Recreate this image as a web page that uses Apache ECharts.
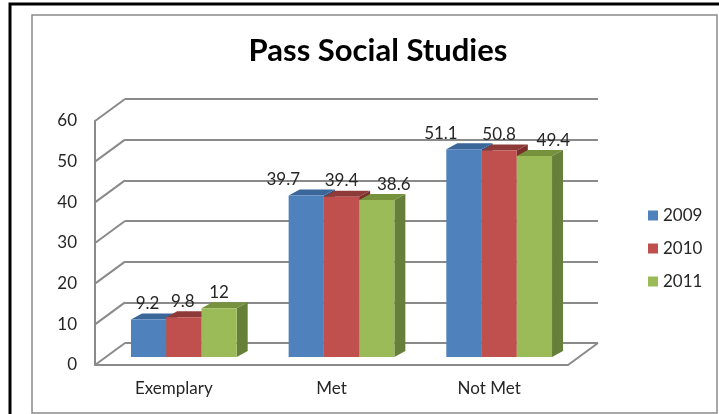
<!DOCTYPE html>
<html>
<head>
<meta charset="utf-8">
<script src="https://cdn.jsdelivr.net/npm/echarts@6/dist/echarts.min.js"></script>
<style>
  html, body { margin: 0; padding: 0; background: #fff; }
  #main { width: 719px; height: 414px; }
</style>
</head>
<body>
<div id="main"></div>
<script>
// data
var categories = ['Exemplary', 'Met', 'Not Met'];
var years = ['2009', '2010', '2011'];
var v2009 = [9.2, 39.7, 51.1];
var v2010 = [9.8, 39.4, 50.8];
var v2011 = [12, 38.6, 49.4];
var yTicks = [0, 10, 20, 30, 40, 50, 60];

// look
var FONT = 'Lato';
var TEXT = '#262626';
var GRID_COLOR = '#8a8a8a';
var WALL_DX = 30, WALL_DY = -22;     // depth of the floor / side wall
var BAR_DX = 10, BAR_DY = -8;        // where the bars stand inside the box
var BAR_DEPTH_X = 11, BAR_DEPTH_Y = -6;
var BAR_W = 0.2235;                  // share of a category band
var faces = [
  { front: '#4f81bd', top: '#3a6699', side: '#2f5585' },
  { front: '#c0504d', top: '#8e3a38', side: '#7a2f2d' },
  { front: '#9bbb59', top: '#76923c', side: '#66803a' }
];
// data label nudges (Excel places them a bit off-centre)
var labelShift = [[-1, -1, 0], [-23, 0, 17], [-23, 0, 19]];

var chartDom = document.getElementById('main');
var myChart = echarts.init(chartDom);

function barSeries(name, values, k) {
  return {
    name: name,
    type: 'custom',
    xAxisIndex: 0,
    yAxisIndex: 0,
    itemStyle: { color: faces[k].front },
    encode: { x: 0, y: 1 },
    data: values.map(function (v, i) { return [i, v]; }),
    renderItem: function (params, api) {
      var ci = params.dataIndex;
      var v = api.value(1);
      var base = api.coord([ci, 0]);
      var top = api.coord([ci, v]);
      var w = api.size([1, 0])[0] * BAR_W;
      var x0 = base[0] + (k - 1.5) * w + BAR_DX;
      var yb = base[1] + BAR_DY;
      var yt = top[1] + BAR_DY;
      var f = faces[k];
      return {
        type: 'group',
        children: [
          {
            type: 'polygon',
            shape: { points: [[x0 + w, yt], [x0 + w + BAR_DEPTH_X, yt + BAR_DEPTH_Y], [x0 + w + BAR_DEPTH_X, yb + BAR_DEPTH_Y], [x0 + w, yb]] },
            style: { fill: f.side }
          },
          {
            type: 'polygon',
            shape: { points: [[x0, yt], [x0 + w, yt], [x0 + w + BAR_DEPTH_X, yt + BAR_DEPTH_Y], [x0 + BAR_DEPTH_X, yt + BAR_DEPTH_Y]] },
            style: { fill: f.top }
          },
          {
            type: 'rect',
            shape: { x: x0, y: yt, width: w, height: yb - yt },
            style: { fill: f.front }
          },
          {
            type: 'text',
            z2: 100,
            style: {
              text: String(v),
              x: x0 + w / 2 + labelShift[ci][k],
              y: yt - 16,
              align: 'center',
              verticalAlign: 'middle',
              fill: TEXT,
              font: '17px ' + FONT
            }
          }
        ]
      };
    }
  };
}

var option = {
  animation: false,
  backgroundColor: '#fff',
  title: {
    text: 'Pass Social Studies',
    left: 373,
    top: 30,
    textAlign: 'center',
    textStyle: { fontFamily: FONT, fontWeight: 'bold', fontSize: 31, color: '#000' }
  },
  legend: {
    orient: 'vertical',
    left: 643,
    top: 202,
    data: years,
    icon: 'rect',
    itemWidth: 10,
    itemHeight: 10,
    itemGap: 16,
    textStyle: { fontFamily: FONT, fontSize: 17, lineHeight: 17, color: TEXT }
  },
  graphic: [
    { type: 'rect', silent: true, shape: { x: 10, y: 4, width: 800, height: 500 }, style: { fill: null, stroke: '#000', lineWidth: 3 } },
    { type: 'rect', silent: true, shape: { x: 32, y: 15, width: 685, height: 398 }, style: { fill: null, stroke: '#8a8a8a', lineWidth: 1.5 } }
  ],
  grid: [
    { left: 95, top: 121, width: 473, height: 244 },
    { left: 95 + WALL_DX, top: 121 + WALL_DY, width: 473, height: 244 }
  ],
  xAxis: [
    {
      type: 'category', gridIndex: 0, data: categories,
      axisLine: { show: true, lineStyle: { color: GRID_COLOR, width: 2 } },
      axisTick: { show: false },
      axisLabel: { fontFamily: FONT, fontSize: 17, color: TEXT, margin: 15 }
    },
    { type: 'category', gridIndex: 1, data: categories, show: false }
  ],
  yAxis: [
    {
      type: 'value', gridIndex: 0, min: 0, max: 60, interval: 10,
      axisLine: { show: true, lineStyle: { color: GRID_COLOR, width: 2 } },
      axisTick: { show: false },
      splitLine: { show: false },
      axisLabel: { fontFamily: FONT, fontSize: 17, color: TEXT, margin: 18 }
    },
    {
      type: 'value', gridIndex: 1, min: 0, max: 60, interval: 10,
      axisLine: { show: false },
      axisTick: { show: false },
      axisLabel: { show: false },
      splitLine: { show: true, lineStyle: { color: GRID_COLOR, width: 2 } }
    }
  ],
  series: [
    {
      // side wall and floor edges
      type: 'custom',
      silent: true,
      xAxisIndex: 0,
      yAxisIndex: 0,
      encode: { x: 0, y: 1 },
      data: yTicks.map(function (t) { return [0, t]; }),
      renderItem: function (params, api) {
        var cs = params.coordSys;
        var y = api.coord([0, api.value(1)])[1];
        var st = { stroke: GRID_COLOR, lineWidth: 2 };
        var kids = [{ type: 'line', shape: { x1: cs.x, y1: y, x2: cs.x + WALL_DX, y2: y + WALL_DY }, style: st }];
        if (api.value(1) === 0) {
          kids.push({ type: 'line', shape: { x1: cs.x + cs.width, y1: y, x2: cs.x + cs.width + WALL_DX, y2: y + WALL_DY }, style: st });
        }
        return { type: 'group', children: kids };
      }
    },
    barSeries(years[0], v2009, 0),
    barSeries(years[1], v2010, 1),
    barSeries(years[2], v2011, 2)
  ]
};

myChart.setOption(option);
</script>
</body>
</html>
